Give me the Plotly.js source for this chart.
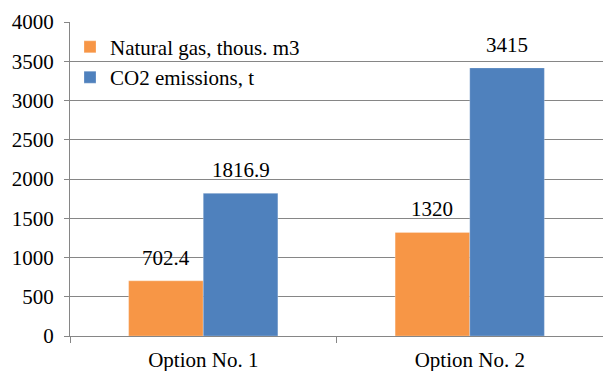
<!DOCTYPE html>
<html>
<head>
<meta charset="utf-8">
<script src="https://cdn.plot.ly/plotly-3.0.1.min.js"></script>
<style>html,body{margin:0;padding:0;background:#fff;}#chart{width:603px;height:371px;}</style>
</head>
<body>
<div id="chart"></div>
<script>
var categories = ["Option No. 1", "Option No. 2"];
var gasValues = [702.4, 1320];
var co2Values = [1816.9, 3415];
var gasLabels = ["702.4", "1320"];
var co2Labels = ["1816.9", "3415"];
var seriesNames = ["Natural gas, thous. m3", "CO2 emissions, t"];
var yTicks = [0, 500, 1000, 1500, 2000, 2500, 3000, 3500, 4000];

var font = "Times New Roman, Liberation Serif, DejaVu Serif, serif";
var orange = "#F79646", blue = "#4F81BD";

var traces = [
  {type: "bar", x: categories, y: gasValues, name: seriesNames[0], legendgroup: "a",
   marker: {color: orange, line: {color: "rgba(255,255,255,0.5)", width: 0.5}}, hoverinfo: "none"},
  {type: "bar", x: categories, y: co2Values, name: seriesNames[1], legendgroup: "b",
   marker: {color: blue, line: {color: "rgba(255,255,255,0.5)", width: 0.5}}, hoverinfo: "none"}
];

var annotations = [];
categories.forEach(function (c, i) {
  annotations.push({x: c, xshift: -37.5, y: gasValues[i], text: gasLabels[i], showarrow: false,
    yanchor: "bottom", yshift: 9, font: {family: font, size: 21, color: "#000"}});
  annotations.push({x: c, xshift: 37.5, y: co2Values[i], text: co2Labels[i], showarrow: false,
    yanchor: "bottom", yshift: 9, font: {family: font, size: 21, color: "#000"}});
});

var layout = {
  width: 603, height: 371,
  margin: {l: 70, r: 0, t: 22, b: 35},
  paper_bgcolor: "#fff", plot_bgcolor: "#fff",
  font: {family: font, size: 21, color: "#000"},
  barmode: "group", bargap: 0.44, bargroupgap: 0,
  showlegend: true,
  legend: {x: 0.0, y: 0.985, xanchor: "left", yanchor: "top", bgcolor: "rgba(0,0,0,0)",
    font: {family: font, size: 21, color: "#000"}, tracegroupgap: 4, itemwidth: 30, traceorder: "normal"},
  xaxis: {type: "category", showgrid: false, showline: true, linecolor: "#868686", linewidth: 1,
    ticks: "outside", tickson: "boundaries", ticklen: 6, tickcolor: "#868686",
    ticklabelstandoff: 5, tickfont: {family: font, size: 21, color: "#000"}, zeroline: false},
  yaxis: {range: [0, 4000], tickvals: yTicks, ticktext: yTicks.map(String), showgrid: true,
    gridcolor: "#868686", gridwidth: 1, showline: true, linecolor: "#868686", linewidth: 1,
    ticks: "outside", ticklen: 5, tickcolor: "#868686", ticklabelstandoff: 6,
    tickfont: {family: font, size: 21, color: "#000"}, zeroline: false},
  annotations: annotations
};

Plotly.newPlot("chart", traces, layout, {staticPlot: true, displayModeBar: false});
</script>
</body>
</html>
